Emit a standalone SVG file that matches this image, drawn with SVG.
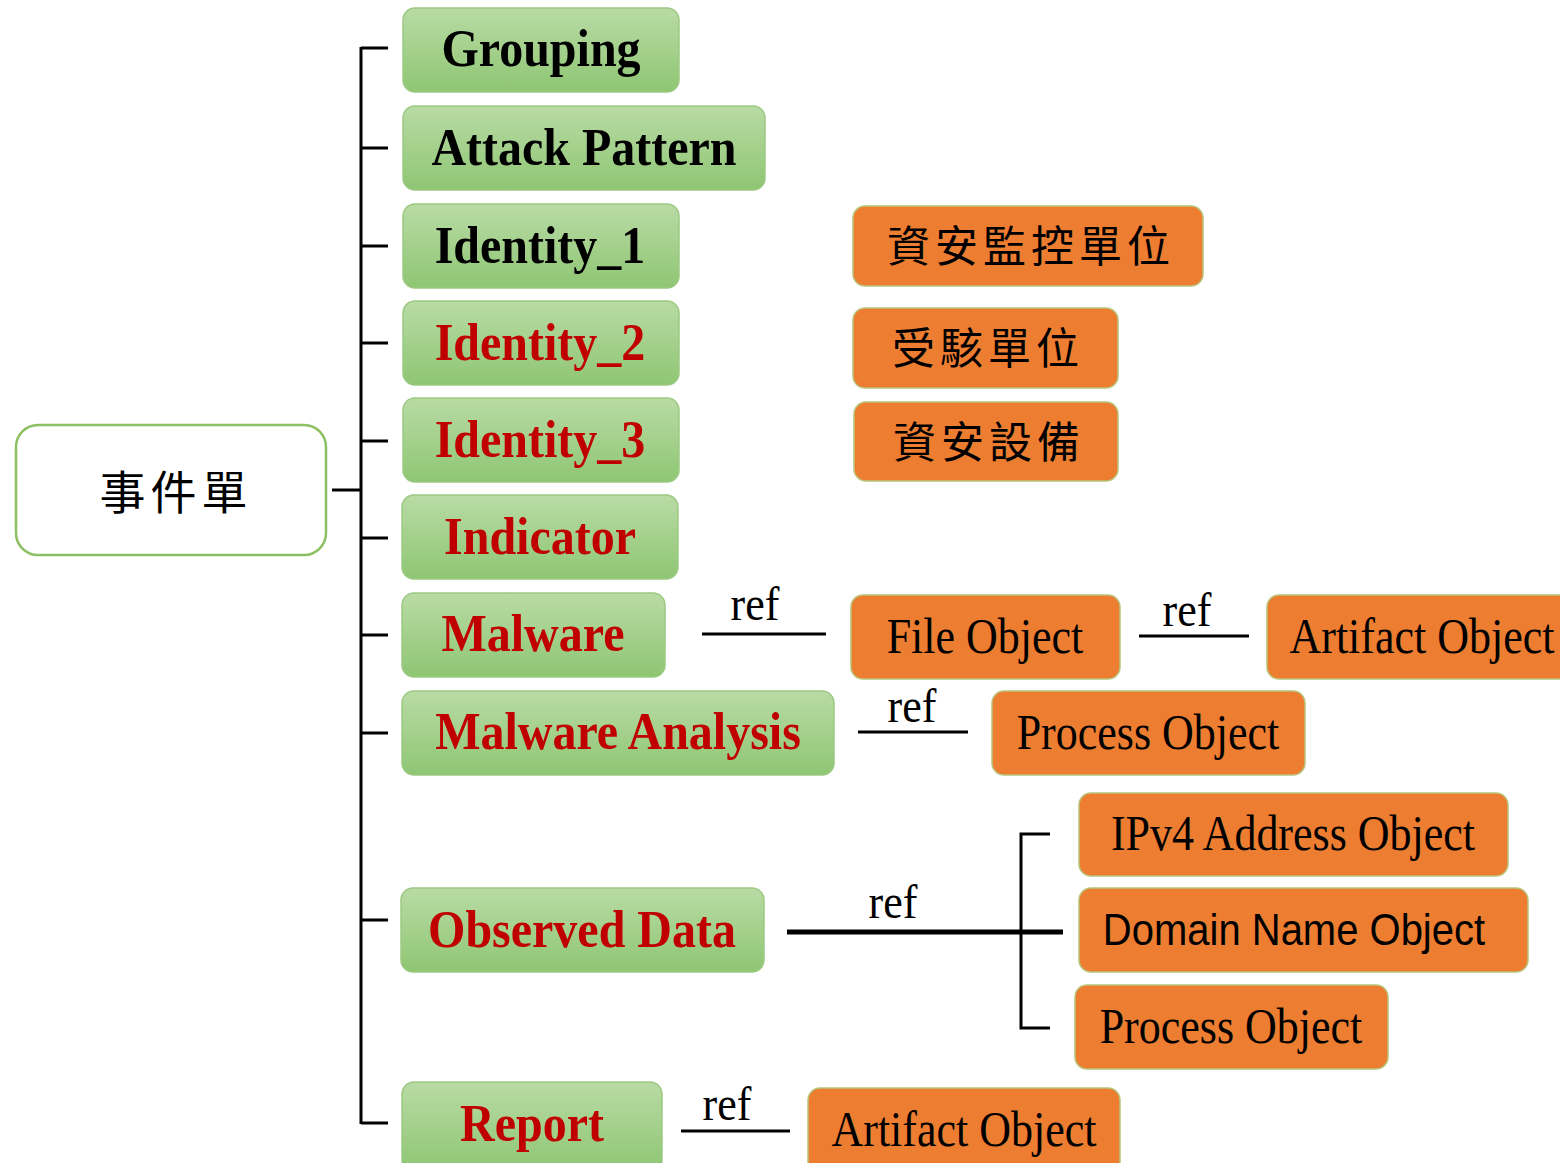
<svg xmlns="http://www.w3.org/2000/svg" width="1560" height="1163" viewBox="0 0 1560 1163">
<style>
.g{fill:url(#gg);stroke:#9cc982;stroke-width:1.5}
.o{fill:#ED7D31;stroke:#b8c47a;stroke-width:1.5}
.gt{font-family:"Liberation Serif","Times New Roman",serif;font-weight:bold;font-size:48px;text-anchor:middle}
.blk{fill:#000}
.red{fill:#C00000}
.ot{font-family:"Liberation Serif","Times New Roman",serif;font-size:44px;text-anchor:middle;fill:#000}
.st{font-family:"Liberation Sans",Arial,sans-serif;font-size:40px;text-anchor:middle;fill:#000}
.ct{font-family:"Noto Sans CJK TC","Noto Sans CJK SC",sans-serif;font-size:43px;text-anchor:middle;fill:#000;letter-spacing:5px}
.ln{stroke:#000;stroke-width:3;fill:none}
.ref{font-family:"Liberation Serif","Times New Roman",serif;font-size:44px;text-anchor:middle;fill:#000}
</style>
<defs>
<linearGradient id="gg" x1="0" y1="0" x2="0" y2="1">
<stop offset="0" stop-color="#b9dba5"/>
<stop offset="1" stop-color="#8ec673"/>
</linearGradient>
</defs>

<g id="connectors">
<path class="ln" d="M332 490H361M361 47V1124M361 48H388M361 148H388M361 246H388M361 343H388M361 441H388M361 538H388M361 635H388M361 733H388M361 920H388M361 1123H388"/>
<path class="ln" d="M702 634H826M1139 636H1249M858 732H968M681 1131H790M1050 834H1021V1028H1050"/>
<path d="M787 932H1063" stroke="#000" stroke-width="5"/>
<text class="ref" x="755" y="620" transform="translate(755 620) scale(1 1.1) translate(-755 -620)">ref</text>
<text class="ref" x="1187" y="626" transform="translate(1187 626) scale(1 1.1) translate(-1187 -626)">ref</text>
<text class="ref" x="912" y="722" transform="translate(912 722) scale(1 1.1) translate(-912 -722)">ref</text>
<text class="ref" x="893" y="918" transform="translate(893 918) scale(1 1.1) translate(-893 -918)">ref</text>
<text class="ref" x="727" y="1120" transform="translate(727 1120) scale(1 1.1) translate(-727 -1120)">ref</text>
</g>

<g id="root">
<rect x="16" y="425" width="310" height="130" rx="22" fill="#fff" stroke="#8cc063" stroke-width="2.5"/>
<text class="ct" x="176" y="509" style="font-size:46px;letter-spacing:5px">事件單</text>
</g>

<g id="grouping"><rect class="g" x="403" y="8" width="276" height="84" rx="12"/><text class="gt blk" x="541" y="66" transform="translate(541 66) scale(1 1.1) translate(-541 -66)">Grouping</text></g>
<g id="attack-pattern"><rect class="g" x="403" y="106" width="362" height="84" rx="12"/><text class="gt blk" x="584" y="165" transform="translate(584 165) scale(1 1.1) translate(-584 -165)">Attack Pattern</text></g>
<g id="identity1"><rect class="g" x="403" y="204" width="276" height="84" rx="12"/><text class="gt blk" x="540" y="263" transform="translate(540 263) scale(1 1.1) translate(-540 -263)">Identity_1</text></g>
<g id="identity2"><rect class="g" x="403" y="301" width="276" height="84" rx="12"/><text class="gt red" x="540" y="360" transform="translate(540 360) scale(1 1.1) translate(-540 -360)">Identity_2</text></g>
<g id="identity3"><rect class="g" x="403" y="398" width="276" height="84" rx="12"/><text class="gt red" x="540" y="457" transform="translate(540 457) scale(1 1.1) translate(-540 -457)">Identity_3</text></g>
<g id="indicator"><rect class="g" x="402" y="495" width="276" height="84" rx="12"/><text class="gt red" x="540" y="554" transform="translate(540 554) scale(1 1.1) translate(-540 -554)">Indicator</text></g>
<g id="malware"><rect class="g" x="402" y="593" width="263" height="84" rx="12"/><text class="gt red" x="533" y="651" transform="translate(533 651) scale(1 1.1) translate(-533 -651)">Malware</text></g>
<g id="malware-analysis"><rect class="g" x="402" y="691" width="432" height="84" rx="12"/><text class="gt red" x="618" y="749" transform="translate(618 749) scale(1 1.1) translate(-618 -749)">Malware Analysis</text></g>
<g id="observed-data"><rect class="g" x="401" y="888" width="363" height="84" rx="12"/><text class="gt red" x="582" y="947" transform="translate(582 947) scale(1 1.1) translate(-582 -947)">Observed Data</text></g>
<g id="report"><rect class="g" x="402" y="1082" width="260" height="90" rx="12"/><text class="gt red" x="532" y="1141" transform="translate(532 1141) scale(1 1.1) translate(-532 -1141)">Report</text></g>

<g id="soc-unit"><rect class="o" x="853" y="206" width="350" height="80" rx="12"/><text class="ct" x="1031" y="262">資安監控單位</text></g>
<g id="victim-unit"><rect class="o" x="853" y="308" width="265" height="80" rx="12"/><text class="ct" x="988" y="364">受駭單位</text></g>
<g id="sec-device"><rect class="o" x="854" y="402" width="264" height="79" rx="12"/><text class="ct" x="989" y="458">資安設備</text></g>

<g id="file-object"><rect class="o" x="851" y="595" width="269" height="84" rx="12"/><text class="ot" x="985" y="653" transform="translate(985 653) scale(1 1.15) translate(-985 -653)">File Object</text></g>
<g id="artifact-object-1"><rect class="o" x="1267" y="595" width="310" height="84" rx="12"/><text class="ot" x="1422" y="653" transform="translate(1422 653) scale(1 1.15) translate(-1422 -653)">Artifact Object</text></g>
<g id="process-object-1"><rect class="o" x="992" y="691" width="313" height="84" rx="12"/><text class="ot" x="1148" y="749" transform="translate(1148 749) scale(1 1.15) translate(-1148 -749)">Process Object</text></g>
<g id="ipv4-object"><rect class="o" x="1079" y="793" width="429" height="83" rx="12"/><text class="ot" x="1293" y="850" transform="translate(1293 850) scale(1 1.15) translate(-1293 -850)">IPv4 Address Object</text></g>
<g id="domain-object"><rect class="o" x="1079" y="888" width="449" height="84" rx="12"/><text class="st" x="1294" y="945" transform="translate(1294 945) scale(1 1.12) translate(-1294 -945)">Domain Name Object</text></g>
<g id="process-object-2"><rect class="o" x="1075" y="985" width="313" height="84" rx="12"/><text class="ot" x="1231" y="1043" transform="translate(1231 1043) scale(1 1.15) translate(-1231 -1043)">Process Object</text></g>
<g id="artifact-object-2"><rect class="o" x="808" y="1088" width="312" height="90" rx="12"/><text class="ot" x="964" y="1146" transform="translate(964 1146) scale(1 1.15) translate(-964 -1146)">Artifact Object</text></g>
</svg>
